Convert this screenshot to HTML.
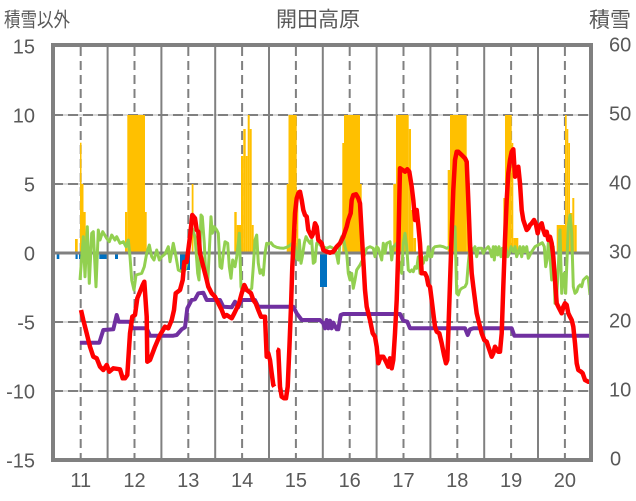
<!DOCTYPE html>
<html><head><meta charset="utf-8"><style>
html,body{margin:0;padding:0;background:#fff;}
svg{display:block;}
text{font-family:"Liberation Sans","Noto Sans CJK JP",sans-serif;fill:#595959;}
</style></head><body>
<svg width="636" height="501" viewBox="0 0 636 501" xmlns="http://www.w3.org/2000/svg">
<rect x="0" y="0" width="636" height="501" fill="#fff"/>
<g stroke="#d9d9d9" stroke-width="2">
<line x1="53" y1="115" x2="591" y2="115"/><line x1="53" y1="184" x2="591" y2="184"/>
<line x1="53" y1="322" x2="591" y2="322"/><line x1="53" y1="391" x2="591" y2="391"/>
</g>
<g stroke="#808080" stroke-width="2" stroke-dasharray="10 5">
<line x1="53" y1="115" x2="591" y2="115"/><line x1="53" y1="184" x2="591" y2="184"/>
<line x1="53" y1="322" x2="591" y2="322"/><line x1="53" y1="391" x2="591" y2="391"/>
</g>
<g stroke="#808080" stroke-width="2">
<line x1="107.6" y1="45" x2="107.6" y2="460"/><line x1="161.4" y1="45" x2="161.4" y2="460"/>
<line x1="215.2" y1="45" x2="215.2" y2="460"/><line x1="269" y1="45" x2="269" y2="460"/>
<line x1="322.8" y1="45" x2="322.8" y2="460"/><line x1="376.6" y1="45" x2="376.6" y2="460"/>
<line x1="430.4" y1="45" x2="430.4" y2="460"/><line x1="484.2" y1="45" x2="484.2" y2="460"/>
<line x1="538" y1="45" x2="538" y2="460"/>
</g>
<g stroke="#808080" stroke-width="2" stroke-dasharray="9 5">
<line x1="80.7" y1="47" x2="80.7" y2="460"/><line x1="134.5" y1="47" x2="134.5" y2="460"/>
<line x1="188.3" y1="47" x2="188.3" y2="460"/><line x1="242.1" y1="47" x2="242.1" y2="460"/>
<line x1="295.9" y1="47" x2="295.9" y2="460"/><line x1="349.7" y1="47" x2="349.7" y2="460"/>
<line x1="403.5" y1="47" x2="403.5" y2="460"/><line x1="457.3" y1="47" x2="457.3" y2="460"/>
<line x1="511.1" y1="47" x2="511.1" y2="460"/><line x1="564.9" y1="47" x2="564.9" y2="460"/>
</g>
<g fill="#FFC000">
<rect x="75" y="239" width="2.7" height="14"/>
<rect x="80" y="142.7" width="1.5" height="110.3"/>
<rect x="81.5" y="184" width="2" height="69"/>
<rect x="83.5" y="212" width="2.2" height="41"/>
<rect x="125" y="212" width="2.3" height="41"/>
<rect x="127.3" y="115" width="17.7" height="138"/>
<rect x="145" y="212" width="1.7" height="41"/>
<rect x="191.7" y="184" width="1.8" height="69"/>
<rect x="234.3" y="212" width="2.4" height="41"/>
<rect x="236.7" y="225" width="4.3" height="28"/>
<rect x="241" y="156" width="2.3" height="97"/>
<rect x="243.3" y="129" width="2.4" height="124"/>
<rect x="245.7" y="156" width="2" height="97"/>
<rect x="247.7" y="115" width="2" height="138"/>
<rect x="249.7" y="129" width="2" height="124"/>
<rect x="251.7" y="225" width="2" height="28"/>
<rect x="286.7" y="184" width="1.8" height="69"/>
<rect x="288.5" y="115" width="8.2" height="138"/>
<rect x="296.7" y="190" width="1.6" height="63"/>
<rect x="342.3" y="143" width="1.7" height="110"/>
<rect x="344" y="115" width="16" height="138"/>
<rect x="360" y="184" width="1.7" height="69"/>
<rect x="393.3" y="184" width="2.7" height="69"/>
<rect x="396" y="115" width="12.7" height="138"/>
<rect x="408.7" y="129" width="2.3" height="124"/>
<rect x="411" y="210" width="2.3" height="43"/>
<rect x="413.3" y="238" width="2.7" height="15"/>
<rect x="447.7" y="170" width="2.3" height="83"/>
<rect x="450" y="115" width="16.7" height="138"/>
<rect x="466.7" y="200" width="2.3" height="53"/>
<rect x="503.3" y="198" width="1.7" height="55"/>
<rect x="505" y="115" width="6.7" height="138"/>
<rect x="511.7" y="143" width="1.6" height="110"/>
<rect x="513.3" y="238" width="5" height="15"/>
<rect x="556.7" y="225" width="8.3" height="28"/>
<rect x="565" y="115" width="1.7" height="138"/>
<rect x="566.7" y="129" width="1.6" height="124"/>
<rect x="568.3" y="143" width="1.7" height="110"/>
<rect x="570" y="213" width="2.3" height="40"/>
<rect x="572.3" y="198" width="2" height="55"/>
<rect x="574.3" y="225" width="2.4" height="28"/>
</g>
<g fill="#0070C0">
<rect x="56.7" y="253" width="2.6" height="6"/>
<rect x="75.5" y="253" width="2.2" height="6"/>
<rect x="79" y="253" width="2.5" height="6"/>
<rect x="99.3" y="253" width="7.4" height="6"/>
<rect x="115" y="253" width="3" height="6"/>
<rect x="180" y="253" width="10" height="17"/>
<rect x="320" y="253" width="7" height="34"/>
</g>
<line x1="53" y1="253" x2="591" y2="253" stroke="#808080" stroke-width="3"/>
<polyline fill="none" stroke="#92D050" stroke-width="3" stroke-linejoin="round" points="80,280 83.3,236.7 85,276.7 87.3,226.7 89.3,283.3 91.7,233.3 93.3,231.7 96,286.7 98.3,230 100,240 102.7,231.7 106.7,238.3 109.3,241.7 111.7,235 115,240 116.7,236.7 120,243.3 123.3,241.7 126,246.7 128.3,240 130,256.7 131.7,280 134,290 136,275 141.7,273.3 144.3,266.7 146.7,253.3 149.3,245 151.7,256.7 154,260 156.7,250 159.3,260 161.7,256.7 165,254 168.3,246.7 170,261.7 173.3,243.3 176,256.7 178.3,270 181.7,271.7 185,270 187.7,260 190,233.3 192.3,228.3 195,236.7 197.7,273.3 199,280 201,215 202.3,216.7 204.3,243.3 205.7,273.3 207.7,283.3 209,256.7 211,216.7 212.3,233.3 214.3,226.7 216.7,230 218.3,233.3 220,266.7 221.7,268.3 223.3,253.3 225,241.7 227.7,243.3 229.3,266.7 231,278.3 232.7,260 235,266.7 236.7,256.7 238.3,243.3 239.3,233.3 241,286.7 242.3,291.7 245,290 248.3,291.7 251.7,288.3 253.3,266.7 255,240 256.7,235 258.3,263.3 260,273.3 261.7,270 263.3,275 265,253.3 266.7,243.3 268.3,244 271,242.7 273.3,245.7 276.7,247.3 280,248 283.3,248.3 286.7,247.3 290,245.3 292.3,243.3 295,246.7 296.7,258.3 298.3,260 299.3,240 301,263.3 302.3,256.7 304.3,243.3 306,236.7 307.7,240 310,243.3 311.7,240 313.3,263.3 315,261.7 316.7,243.3 318.3,241.7 320,245 323.3,246.7 326.7,248.3 330,246.7 333.3,248.3 336,251.7 338.3,263.3 340,241.7 341.7,236.7 343.3,238.3 345,246.7 346.7,253.3 348.3,273.3 350,280 351.7,273.3 353.3,288.3 355,280 356.7,270 360,265 363.3,258.3 366.7,248.3 370,246.7 373.3,248.3 375,256.7 376.7,246.7 378.3,248.3 381.7,260 383.3,243.3 385,253.3 386.7,243.3 390,241.7 391.7,260 393.3,246.7 395,245 396.7,243.3 398.3,260 400,263.3 401.7,273.3 403.3,243.3 405,233.3 406.7,246.7 408.3,270 410,271.7 411.7,270 413.3,271.7 415,266.7 416.7,268.3 418.3,256.7 420,273.3 421.7,256.7 423.3,263.3 425,256.7 426.7,260 428.3,246.7 430,256.7 431.7,256.7 433.3,248.3 435,246.7 440,246 443.3,246.7 446.7,248.3 450,246.7 451.7,240 453.3,233.3 455,226.7 456.7,293.3 458.3,295 460,290 461.7,288.3 465,286.7 466.7,283.3 468.3,263.3 470,246.7 471.7,248.3 473.3,250 475,246.7 476.7,256.7 478.3,248.3 481.7,248.3 483.3,253.3 485,250 488.3,246.7 490,250 491.7,256.7 493.3,246.7 494.3,260 495.7,246.7 497.7,255 499,246.7 501,256.7 502.3,248.3 504.3,253.3 505.7,246.7 507.7,256.7 509.3,253.3 511,246.7 513.3,251.7 515,246.7 516.7,256.7 518.3,251.7 520,246.7 521.7,256.7 523.3,246.7 525,251.7 526.7,246.7 528.3,258.3 530,255 531.7,251.7 535,246.7 540,244 542.3,242.7 544.3,246.7 545.7,266.7 547,260 548.3,243.3 550,256.7 551.7,280 553.3,246.7 555,303.3 556.7,296.7 558.3,266.7 560,230 561.7,293.3 563.3,276.7 564.3,273.3 565.7,293.3 566.7,266.7 568.3,226.7 570,215 571.7,233.3 573.3,286.7 575,293.3 576.7,291.7 578.3,286.7 580,285 581.7,286.7 583.3,280 585,278.3 586.7,276.7 588.3,278.3 590,295"/>
<polyline fill="none" stroke="#7030A0" stroke-width="4" stroke-linejoin="round" points="80,342.7 99.3,342.7 103.3,330 113.3,329.3 116.7,315 118.7,321.7 130,321.7 132.7,328.3 146.7,328.3 150,335.7 173.3,335.7 176.7,335 181.7,329.3 185,327.3 187.3,308.3 191.7,300 195,299.3 198.3,293.3 203.3,292.7 206.7,300 220,300 223.3,306.7 231.7,307.3 235,301.7 238.3,307.3 241.7,300 255,300 258.3,306.7 293.3,306.7 296.7,313.3 301.7,320 320,320 323.3,323.3 325,328.3 326.7,320 328.3,328.3 330,320.7 331.7,328.3 333.3,322.7 336.7,329.3 338.3,329.3 340.7,315 343.3,314 400,314 403.3,320.7 407.3,321.7 410,328.3 465,328.3 467.7,335 470,329.3 473.3,328.3 511.7,328.3 514.3,335.7 590,335.7"/>
<g fill="none" stroke="#FF0000" stroke-width="4.5" stroke-linejoin="round">
<polyline points="81,310 83.3,320 86.7,333.3 90,346.7 93.3,356.7 96.7,358.3 100,366.7 103.3,370 106.7,365 109.3,371.7 113.3,368.3 120,369.3 122.7,378.3 125,378.3 127.3,375 130,333.3 132.3,316.7 135,315 137.3,298.3 140,291.7 142.7,285 144.3,281.7 146.7,316.7 147.3,361.7 150,360 155,346.7 160,335 165,326.7 168.3,328.3 171.7,320 174,310 175.7,293.3 180,290 182.7,280 184.3,262 186.7,262 190,236.7 192.3,215 195,218.3 196.7,230 198.3,231.7 200,253.3 201.7,260 203.3,266.7 205,273.3 206.7,280 208.3,286.7 211.7,293.3 215,296.7 218.3,303.3 221.7,310 224.3,316.7 226.7,315 229.3,316.7 231.7,318.3 234.3,313.3 236.7,308.3 239,303.3 241.7,293.3 244.3,285 246.7,290 249,291.7 251,293.3 253.3,300 255.7,303.3 258.3,310 261,316.7 265,316.7 266.7,356.7 268.3,353.3 270,360 271.7,373.3 273.3,385 274.3,386.7"/>
<polyline points="276.7,349.3 278.3,350 280,386.7 281.7,396.7 284,398.3 286,398.3 287.7,386.7 289.3,350 291,306.7 292.3,266.7 293.7,240 295,213.3 296.7,198.3 298.3,193.3 300,191.7 301.7,200 303.3,210 305,215 306.7,216.7 308.3,230 310,233.3 311.7,236.7 313.3,233.3 315,223.3 316.7,226.7 318.3,240 321.7,243.3 323.3,250 326.7,251.7 330,252.7 333.3,251.7 336.7,246.7 340,243.3 343.3,236.7 346.7,226.7 348.3,220 350.7,213.3 351.7,200 353.3,195 356,194.3 358.3,198.3 360,203.3 361.7,233.3 363.3,260 365,290 366.7,306.7 370,320 372.7,333.3 375,336.7 376.7,346.7 378.3,363.3 380.7,356.7 383.3,356.7 386,361.7 388.3,366.7 390,358.3 391.7,368.3 393.3,360 395,333.3 396.7,300 398.3,250 399.3,200 400,168.3 402.7,170 405,171.7 407.3,169.3 409.3,171.7 411.7,186.7 413.3,200 415,220 416.7,210 418.3,225 420,243.3 421.7,273.3 425,273.3 426.7,276.7 428.3,285 430,286.7 431.7,300 433.3,313.3 435,326.7 436.7,331.7 439.3,333.3 441.7,343.3 444,355 446,363.3 447.3,360 448.3,333.3 450,283.3 451.7,233.3 453.3,190 455,160 456.7,151.7 458.3,151.7 461.7,155 465,158.3 466.7,161.7 468.3,200 470,243.3 471.7,273.3 473.3,286.7 475,300 476.7,313.3 478.3,320 480,326.7 481.7,333.3 484.3,340 486.7,341.7 488.3,346.7 490,351.7 491.7,356.7 493.3,353.3 495,346.7 498.3,351.7 500,351.7 501.7,333.3 503.3,286.7 505,240 506.7,200 508.3,173.3 510,160 511.7,151.7 513.3,149.3 515,176.7 516.7,170 518.3,166.7 520,183.3 521.7,210 523.3,220 525,225 526.7,230 528.3,228.3 530,225 531.7,223.3 534,220 535.7,223.3 537.7,233.3 539,226.7 541.7,223.3 543.3,230 545,235 546.7,231.7 548.3,240 550,236.7 551.7,243.3 553.3,256.7 555,280 556.7,303.3 558.3,306.7 560,310 561.7,313.3 563.3,306.7 565,303.3 566.7,305 568.3,313.3 570,316.7 571.7,320 573.3,326.7 575,343.3 576.7,363.3 578.3,370 581,371.7 582.7,373.3 585,380 588.3,381.7 590,381.7"/>
</g>
<rect x="53" y="45" width="538" height="415" fill="none" stroke="#808080" stroke-width="4"/>
<text x="318" y="26.5" font-size="21" text-anchor="middle">開田高原</text>
<text x="4" y="26.5" font-size="20" textLength="66" lengthAdjust="spacingAndGlyphs">積雪以外</text>
<text x="589" y="27" font-size="21" textLength="42" lengthAdjust="spacingAndGlyphs">積雪</text>
<g font-size="20" text-anchor="end">
<text x="35" y="53.5">15</text>
<text x="35" y="122.5">10</text>
<text x="35" y="191.5">5</text>
<text x="35" y="260.5">0</text>
<text x="35" y="329.5">-5</text>
<text x="35" y="398.5">-10</text>
<text x="35" y="467.5">-15</text>
</g>
<g font-size="20" text-anchor="start">
<text x="609" y="51.5">60</text>
<text x="609" y="120.5">50</text>
<text x="609" y="189.5">40</text>
<text x="609" y="258.5">30</text>
<text x="609" y="327.5">20</text>
<text x="609" y="396.5">10</text>
<text x="610" y="465.5">0</text>
</g>
<g font-size="20" text-anchor="middle">
<text x="80.7" y="487">11</text>
<text x="134.5" y="487">12</text>
<text x="188.3" y="487">13</text>
<text x="242.1" y="487">14</text>
<text x="295.9" y="487">15</text>
<text x="349.7" y="487">16</text>
<text x="403.5" y="487">17</text>
<text x="457.3" y="487">18</text>
<text x="511.1" y="487">19</text>
<text x="564.9" y="487">20</text>
</g>
</svg>
</body></html>
